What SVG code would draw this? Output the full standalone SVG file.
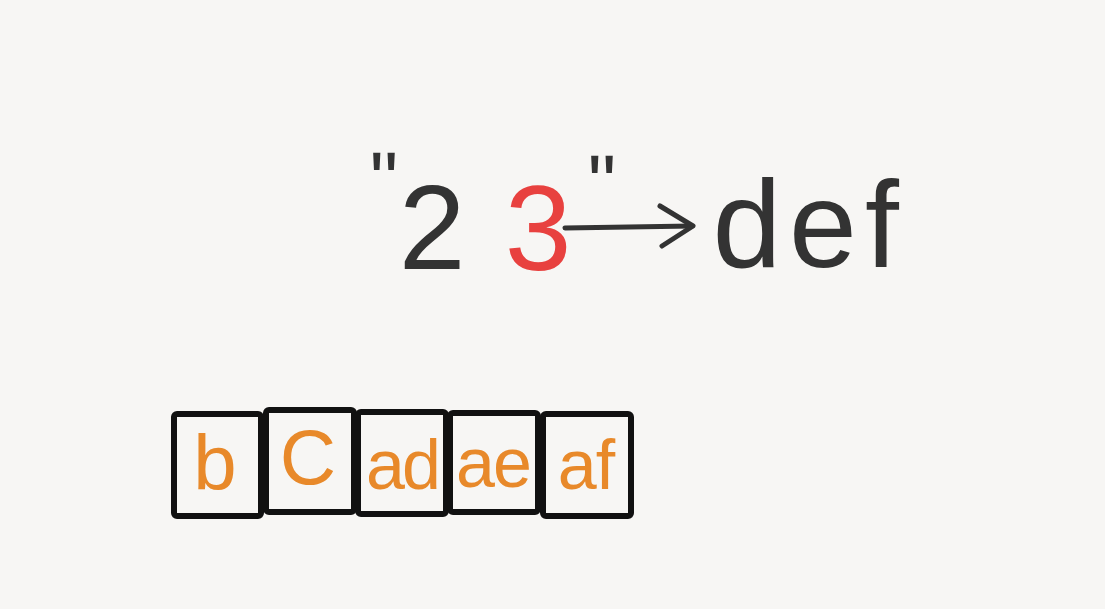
<svg xmlns="http://www.w3.org/2000/svg" width="1105" height="609" viewBox="0 0 1105 609">
  <style>
    .ink { font-family: "Liberation Sans", Arial, sans-serif; fill: #333333; }
    .red { font-family: "Liberation Sans", Arial, sans-serif; fill: #E8413F; }
    .cell rect { fill: none; stroke: #111111; stroke-width: 6; }
    .cell text { font-family: "Liberation Sans", Arial, sans-serif; fill: #E8892A; font-size: 78px; text-anchor: middle; }
    .cell text.two { font-size: 70px; }
    .conn { fill: none; stroke: #333333; stroke-width: 5; stroke-linecap: round; stroke-linejoin: round; }
  </style>
  <rect width="1105" height="609" fill="#F7F6F4"/>

  <g id="input">
    <text class="ink" x="384" y="208" font-size="80" text-anchor="middle">"</text>
    <text class="ink" x="432" y="269" font-size="120" text-anchor="middle">2</text>
    <text class="red" x="538" y="270" font-size="120" text-anchor="middle">3</text>
    <text class="ink" x="602" y="211" font-size="80" text-anchor="middle">"</text>
  </g>

  <g id="output">
    <text class="ink" x="747" y="267" font-size="124" text-anchor="middle">d</text>
    <text class="ink" x="823" y="267" font-size="122" text-anchor="middle">e</text>
    <text class="ink" x="882" y="267" font-size="122" text-anchor="middle">f</text>
  </g>

  <g id="connectors">
    <path class="conn" d="M565 228 L692 226"/>
    <path class="conn" d="M660 206 L693 226 L662 246"/>
  </g>

  <g id="cell-b" class="cell">
    <rect x="174" y="414" width="87" height="102" rx="3"/>
    <text x="215" y="490">b</text>
  </g>
  <g id="cell-c" class="cell">
    <rect x="266" y="410" width="88" height="102" rx="3"/>
    <text x="308" y="484">C</text>
  </g>
  <g id="cell-ad" class="cell">
    <rect x="358" y="412" width="88" height="102" rx="3"/>
    <text class="two" x="402" y="489" letter-spacing="-3">ad</text>
  </g>
  <g id="cell-ae" class="cell">
    <rect x="450" y="413" width="88" height="99" rx="3"/>
    <text class="two" x="493" y="487" letter-spacing="-2">ae</text>
  </g>
  <g id="cell-af" class="cell">
    <rect x="543" y="414" width="88" height="102" rx="3"/>
    <text class="two" x="586" y="489" letter-spacing="-1">af</text>
  </g>
</svg>
